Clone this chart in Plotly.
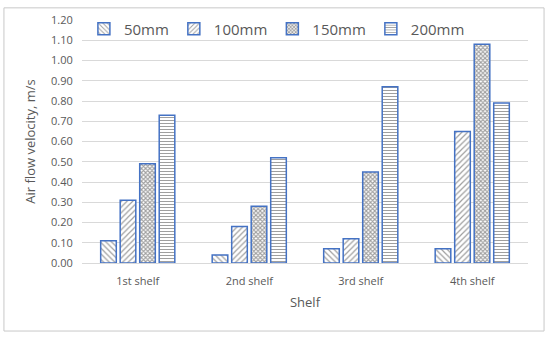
import plotly.graph_objects as go

# Data
shelves = ['1st shelf', '2nd shelf', '3rd shelf', '4th shelf']
v_50mm = [0.11, 0.04, 0.07, 0.07]
v_100mm = [0.31, 0.18, 0.12, 0.65]
v_150mm = [0.49, 0.28, 0.45, 1.08]
v_200mm = [0.73, 0.52, 0.87, 0.79]

series = [('50mm', v_50mm, '\\', 4, 0.3), ('100mm', v_100mm, '/', 4, 0.3),
          ('150mm', v_150mm, 'x', 3, 0.6), ('200mm', v_200mm, '-', 3, 0.35)]

fig = go.Figure()
for name, vals, shape, size, sol in series:
    fig.add_trace(go.Bar(
        x=shelves, y=vals, name=name,
        marker=dict(color='white',
                    line=dict(color='#4472C4', width=1.5),
                    pattern=dict(shape=shape, fgcolor='#404040', bgcolor='white',
                                 size=size, solidity=sol)),
    ))

fig.update_layout(
    width=550, height=338,
    margin=dict(l=82, r=22, t=20, b=75),
    paper_bgcolor='white', plot_bgcolor='white',
    font=dict(family='Open Sans', color='#595959', size=11),
    barmode='group', bargap=0.3, bargroupgap=0.2,
    legend=dict(orientation='h', x=0.437, xanchor='center', y=0.963, yanchor='middle',
                itemwidth=30, font=dict(size=15, color='#595959'),
                bgcolor='rgba(0,0,0,0)'),
    xaxis=dict(title=dict(text='Shelf', font=dict(size=13), standoff=10),
               ticklabelstandoff=8,
               showline=True, linecolor='#d9d9d9', ticks=''),
    yaxis=dict(title=dict(text='Air flow velocity, m/s', font=dict(size=13), standoff=12),
               ticks='outside', ticklen=6, tickcolor='rgba(0,0,0,0)',
               range=[0, 1.2], dtick=0.1, tickformat='.2f',
               gridcolor='#d9d9d9', zeroline=False),
    shapes=[dict(type='rect', xref='paper', yref='paper',
                 x0=-0.175, x1=1.036, y0=-0.28, y1=1.05,
                 line=dict(color='#c8c8c8', width=1))],
)

# the page body has a default margin, remove it so the figure sits at 0,0
fig.write_html('out.html', config={'displayModeBar': False},
               post_script="document.body.style.margin='0';")
